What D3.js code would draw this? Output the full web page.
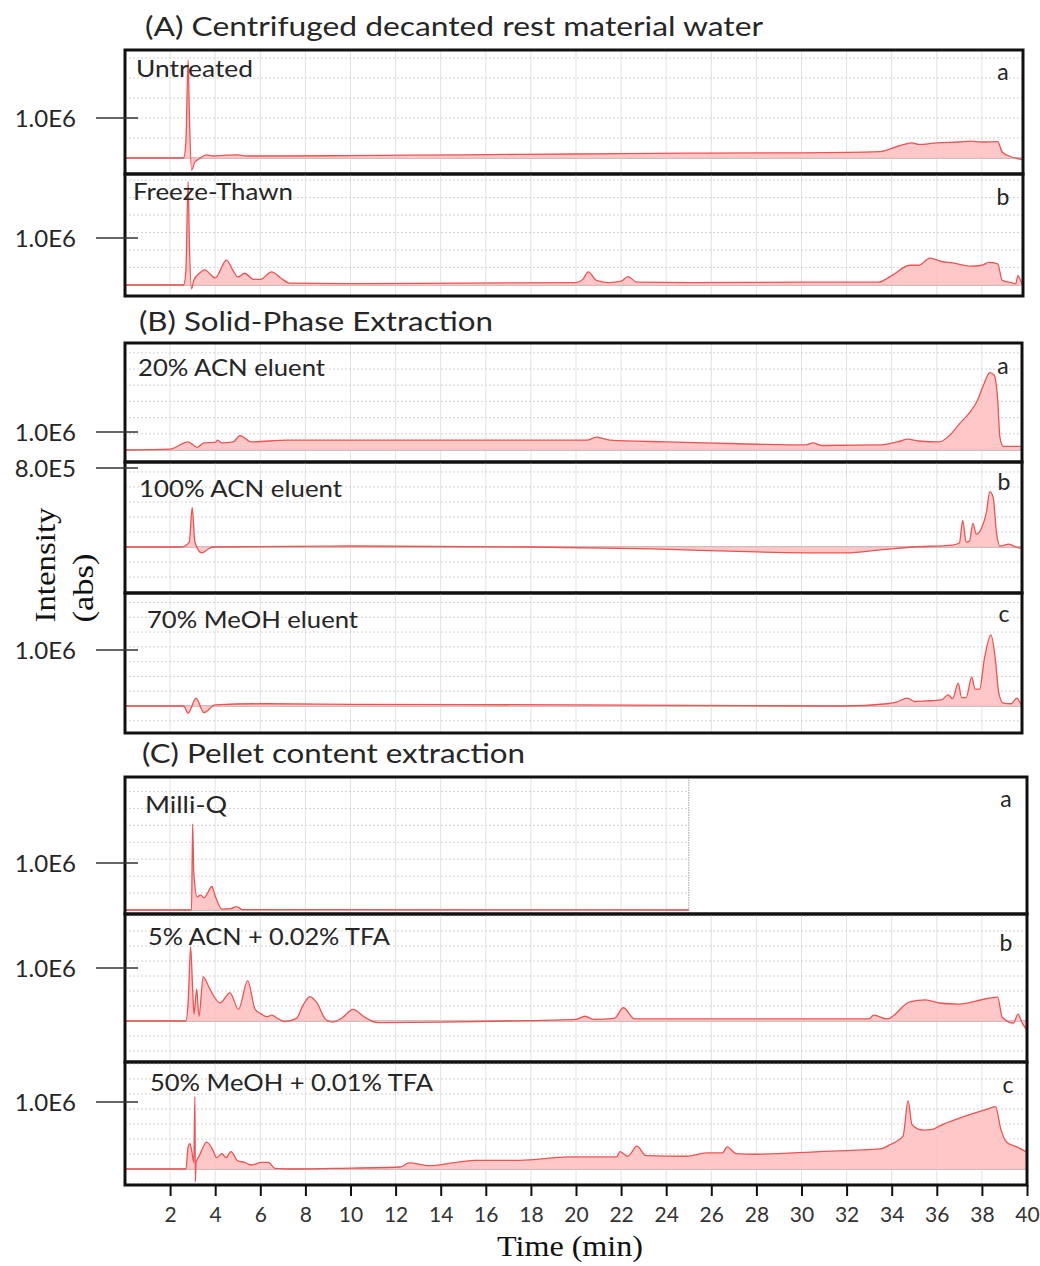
<!DOCTYPE html>
<html>
<head>
<meta charset="utf-8">
<script src="https://cdn.jsdelivr.net/npm/d3@7"></script>
<style>
  body { margin: 0; background: #fff; }
  svg { display: block; }
</style>
</head>
<body>
<svg id="chart" width="1040" height="1266"></svg>
<script>
// ---- data (intensity in units of 1E6, time in min) ----
const sectionTitles = ["(A) Centrifuged decanted rest material water", "(B) Solid-Phase Extraction", "(C) Pellet content extraction"];
const panelNames = ["Untreated", "Freeze-Thawn", "20% ACN eluent", "100% ACN eluent", "70% MeOH eluent",
  "Milli-Q", "5% ACN + 0.02% TFA", "50% MeOH + 0.01% TFA"];
const panelLetters = ["a", "b", "a", "b", "c", "a", "b", "c"];
const yTickValues = [1.0, 1.0, 1.0, 0.8, 1.0, 1.0, 1.0, 1.0];
const yTickLabels = ["1.0E6", "1.0E6", "1.0E6", "8.0E5", "1.0E6", "1.0E6", "1.0E6", "1.0E6"];
const xTicks = [2, 4, 6, 8, 10, 12, 14, 16, 18, 20, 22, 24, 26, 28, 30, 32, 34, 36, 38, 40];
const runEnd = [40, 40, 40, 40, 40, 25, 40, 40];

const untreatedTime = [0, 2.6, 2.7, 2.8, 2.85, 2.95, 3.1, 3.3, 3.6, 3.9, 4.5, 5.0, 5.4, 7, 10, 15, 20, 25, 30, 33.5, 34.3, 34.9, 35.2, 36, 37, 37.5, 38, 38.7, 38.9, 39.2, 40];
const untreatedInt  = [0, 0, 0.4, 2.45, 1.2, -0.3, -0.1, -0.02, 0.08, 0.05, 0.07, 0.08, 0.05, 0.05, 0.06, 0.08, 0.1, 0.12, 0.13, 0.16, 0.3, 0.38, 0.34, 0.38, 0.4, 0.42, 0.4, 0.41, 0.15, 0.05, -0.05];

const freezeTime = [0, 2.6, 2.7, 2.8, 2.85, 2.95, 3.05, 3.3, 3.55, 3.8, 4.0, 4.5, 4.8, 5.0, 5.3, 5.7, 6.0, 6.5, 6.9, 7.3, 10, 15, 20, 20.3, 20.55, 20.9, 21.5, 22.0, 22.3, 22.7, 25, 30, 33.4, 34.0, 34.8, 35.2, 35.7, 36.2, 36.7, 37.5, 38.0, 38.3, 38.7, 38.9, 39.3, 39.5, 39.6, 39.8, 40];
const freezeInt  = [0, 0, 0.3, 2.2, 1.0, -0.08, 0.1, 0.25, 0.32, 0.22, 0.15, 0.53, 0.3, 0.17, 0.25, 0.12, 0.12, 0.28, 0.15, 0.04, 0.03, 0.04, 0.05, 0.12, 0.28, 0.1, 0.05, 0.08, 0.18, 0.06, 0.05, 0.06, 0.06, 0.2, 0.42, 0.42, 0.57, 0.5, 0.47, 0.4, 0.42, 0.48, 0.45, 0.1, 0.05, 0.03, 0.2, 0.02, 0];

const acn20Time = [0, 2.0, 2.8, 3.2, 3.5, 4.0, 4.1, 4.3, 4.8, 5.1, 5.6, 7.2, 10, 15, 20.5, 20.9, 21.5, 24, 28, 30.2, 30.5, 30.9, 33.5, 34.4, 34.7, 35.2, 36.1, 36.6, 37.0, 37.5, 37.8, 38.1, 38.35, 38.55, 38.7, 38.8, 38.95, 40];
const acn20Int  = [0, 0.05, 0.45, 0.15, 0.4, 0.42, 0.55, 0.4, 0.45, 0.8, 0.45, 0.55, 0.55, 0.55, 0.55, 0.72, 0.55, 0.45, 0.32, 0.28, 0.4, 0.25, 0.28, 0.5, 0.6, 0.5, 0.45, 0.85, 1.45, 2.15, 2.75, 3.7, 4.3, 4.15, 2.8, 0.7, 0.2, 0.2];

const acn100Time = [0, 2.5, 2.85, 2.98, 3.1, 3.4, 3.7, 3.9, 10, 18, 23.4, 28, 32, 33.5, 35, 36.7, 37.0, 37.15, 37.3, 37.45, 37.6, 37.75, 38.0, 38.2, 38.35, 38.5, 38.65, 38.8, 39.2, 39.5, 40];
const acn100Int  = [0, 0, 0.05, 0.40, 0.05, -0.06, -0.02, 0, 0.01, 0.0, -0.02, -0.05, -0.06, -0.03, 0, 0.02, 0.04, 0.27, 0.05, 0.06, 0.24, 0.13, 0.2, 0.35, 0.56, 0.5, 0.14, 0.01, 0.03, 0.0, -0.02];

const meoh70Time = [0, 2.6, 2.8, 3.15, 3.5, 4.0, 6, 10, 20, 25, 31.8, 33.8, 34.2, 34.7, 35.0, 35.5, 36.2, 36.5, 36.7, 36.95, 37.1, 37.3, 37.55, 37.7, 37.9, 38.1, 38.4, 38.6, 38.75, 38.95, 39.3, 39.55, 39.75, 40];
const meoh70Int  = [0, 0, -0.13, 0.14, -0.12, 0.02, 0.04, 0.03, 0.02, 0.01, 0.0, 0.04, 0.07, 0.14, 0.08, 0.09, 0.11, 0.2, 0.13, 0.41, 0.15, 0.15, 0.52, 0.3, 0.3, 0.82, 1.27, 0.82, 0.23, 0.05, 0.04, 0.14, 0.03, 0.0];

const milliQTime = [0, 2.95, 3.0, 3.05, 3.2, 3.35, 3.5, 3.65, 3.85, 4.0, 4.3, 4.7, 4.95, 5.2, 25];
const milliQInt  = [0, 0, 1.83, 0.8, 0.28, 0.32, 0.26, 0.35, 0.5, 0.3, 0.02, 0.03, 0.07, 0.01, 0];

const acn5Time = [0, 2.7, 2.8, 2.91, 3.0, 3.06, 3.18, 3.28, 3.47, 3.69, 3.92, 4.21, 4.66, 5.03, 5.44, 5.77, 6.06, 6.3, 6.5, 6.8, 7.1, 7.6, 7.9, 8.2, 8.5, 8.9, 9.2, 9.6, 10.12, 10.6, 11.2, 14, 17, 20, 20.4, 20.8, 21.7, 22.1, 22.6, 26, 30, 33.0, 33.2, 33.8, 34.8, 35.5, 36.1, 37.0, 38.2, 38.7, 38.9, 39.4, 39.6, 39.8, 40];
const acn5Int  = [0, 0, 0.35, 1.4, 0.6, 0.13, 0.6, 0.09, 0.83, 0.67, 0.48, 0.34, 0.53, 0.22, 0.76, 0.22, 0.13, 0.08, 0.11, 0.04, -0.01, 0.05, 0.3, 0.46, 0.35, 0.03, -0.02, 0.05, 0.22, 0.08, -0.03, -0.02, 0.0, 0.03, 0.09, 0.03, 0.05, 0.25, 0.04, 0.04, 0.04, 0.04, 0.11, 0.04, 0.36, 0.4, 0.34, 0.32, 0.42, 0.45, 0.07, -0.04, 0.13, -0.05, -0.17];

const meoh50Time = [0, 2.7, 2.8, 2.88, 2.96, 3.05, 3.10, 3.12, 3.15, 3.3, 3.62, 3.9, 4.06, 4.3, 4.48, 4.7, 5.0, 5.3, 5.6, 6.06, 6.36, 6.65, 7.4, 9.2, 12.2, 12.6, 13.5, 14.5, 15.5, 17.5, 19.7, 21.8, 21.95, 22.3, 22.7, 23.1, 24.9, 25.8, 26.5, 26.7, 27.1, 27.9, 30.8, 33.5, 33.9, 34.5, 34.73, 34.9, 35.4, 35.8, 36.1, 37.1, 38.2, 38.6, 38.85, 39.1, 39.55, 40];
const meoh50Int  = [0, 0, 0.33, 0.38, 0.27, 0.1, 1.08, -0.19, 0.1, 0.2, 0.4, 0.28, 0.17, 0.23, 0.17, 0.26, 0.12, 0.1, 0.06, 0.1, 0.1, 0.01, 0, 0.01, 0.03, 0.09, 0.05, 0.09, 0.13, 0.13, 0.18, 0.18, 0.26, 0.19, 0.34, 0.2, 0.19, 0.24, 0.24, 0.33, 0.23, 0.22, 0.26, 0.3, 0.36, 0.49, 1.02, 0.66, 0.58, 0.59, 0.64, 0.77, 0.89, 0.93, 0.58, 0.4, 0.33, 0.25];

const traces = [
  [untreatedTime, untreatedInt], [freezeTime, freezeInt],
  [acn20Time, acn20Int], [acn100Time, acn100Int], [meoh70Time, meoh70Int],
  [milliQTime, milliQInt], [acn5Time, acn5Int], [meoh50Time, meoh50Int]
];

// ---- layout ----
const titlePos = [[145, 36, 618], [139, 331, 354], [142, 763, 383]];
const panels = [
  { top: 50,  bottom: 174,  right: 1023, zeroY: 158,  tickY: 118,  grid: 0.5,   nx: 136, ny: 77,   nw: 117, lx: 1003, ly: 80 },
  { top: 174, bottom: 296,  right: 1023, zeroY: 285,  tickY: 238,  grid: 0.372, nx: 133, ny: 200,  nw: 160, lx: 1003, ly: 205 },
  { top: 343, bottom: 462,  right: 1022, zeroY: 450,  tickY: 432,  grid: 0.9,   nx: 138, ny: 376,  nw: 187, lx: 1003, ly: 374 },
  { top: 462, bottom: 593,  right: 1022, zeroY: 547,  tickY: 468,  grid: 0.152, nx: 139, ny: 497,  nw: 203, lx: 1004, ly: 490 },
  { top: 593, bottom: 733,  right: 1022, zeroY: 706,  tickY: 650,  grid: 0.264, nx: 147, ny: 628,  nw: 211, lx: 1004, ly: 622 },
  { top: 777, bottom: 914,  right: 1027, zeroY: 910,  tickY: 863,  grid: 0.36,  nx: 145, ny: 813,  nw: 82,  lx: 1006, ly: 807 },
  { top: 914, bottom: 1062, right: 1027, zeroY: 1021, tickY: 968,  grid: 0.283, nx: 148, ny: 945,  nw: 242, lx: 1006, ly: 951 },
  { top: 1062, bottom: 1185, right: 1027, zeroY: 1169, tickY: 1102, grid: 0.224, nx: 150, ny: 1091, nw: 283, lx: 1008, ly: 1093 }
];

const sans = "Lato, 'Open Sans', sans-serif";
const serif = "'Liberation Serif', 'DejaVu Serif', serif";
const ink = "#262626";

const svg = d3.select("#chart");
const defs = svg.append("defs");
const x = d3.scaleLinear().domain([0, 40]).range([125, 1027]);

svg.selectAll(".title").data(sectionTitles).join("text")
  .attr("x", (d, i) => titlePos[i][0]).attr("y", (d, i) => titlePos[i][1])
  .attr("textLength", (d, i) => titlePos[i][2]).attr("lengthAdjust", "spacingAndGlyphs")
  .style("font-family", sans).style("font-size", "26.5px").style("fill", ink)
  .text(d => d);

panels.forEach((p, i) => {
  const y = d3.scaleLinear().domain([0, yTickValues[i]]).range([p.zeroY, p.tickY]);
  const end = runEnd[i];
  const g = svg.append("g");

  defs.append("clipPath").attr("id", "clip" + i)
    .append("rect").attr("x", 125).attr("y", p.top).attr("width", p.right - 125).attr("height", p.bottom - p.top);
  const inner = g.append("g").attr("clip-path", `url(#clip${i})`);

  // grid
  const gridRight = Math.min(x(end), p.right);
  inner.selectAll(".vg").data(xTicks.filter(t => t < end)).join("line")
    .attr("x1", d => x(d)).attr("x2", d => x(d)).attr("y1", p.top).attr("y2", p.bottom)
    .attr("stroke", "#e2e2e2").attr("stroke-width", 1);
  const lo = y.invert(p.bottom), hi = y.invert(p.top);
  const hv = d3.range(Math.ceil(lo / p.grid), Math.floor(hi / p.grid) + 1).map(k => k * p.grid).filter(v => Math.abs(v) > 1e-9);
  inner.selectAll(".hg").data(hv).join("line")
    .attr("x1", 125).attr("x2", gridRight).attr("y1", d => y(d)).attr("y2", d => y(d))
    .attr("stroke", "#d4d4d4").attr("stroke-width", 1).attr("stroke-dasharray", "2,2");
  if (end < 40) {
    inner.append("line").attr("x1", x(end)).attr("x2", x(end)).attr("y1", p.top).attr("y2", p.bottom)
      .attr("stroke", "#b0b0b0").attr("stroke-width", 1.2).attr("stroke-dasharray", "1.5,1");
  }

  // baseline
  inner.append("line").attr("x1", 125).attr("x2", x(end)).attr("y1", y(0)).attr("y2", y(0))
    .attr("stroke", "#cdbfbf").attr("stroke-width", 2);

  // trace
  const pts = traces[i][0].map((t, j) => [t, traces[i][1][j]]);
  const area = d3.area().x(d => x(d[0])).y0(y(0)).y1(d => y(d[1])).curve(d3.curveMonotoneX);
  const line = d3.line().x(d => x(d[0])).y(d => y(d[1])).curve(d3.curveMonotoneX);
  inner.append("path").attr("d", area(pts)).attr("fill", "#ffc2c2").attr("fill-opacity", 0.9);
  inner.append("path").attr("d", line(pts)).attr("fill", "none").attr("stroke", "#f05252").attr("stroke-width", 1.3);

  // frame
  g.append("rect").attr("x", 125).attr("y", p.top).attr("width", p.right - 125).attr("height", p.bottom - p.top)
    .attr("fill", "none").attr("stroke", "#111").attr("stroke-width", 3);

  // y tick
  g.append("line").attr("x1", 96).attr("x2", 138).attr("y1", y(yTickValues[i])).attr("y2", y(yTickValues[i]))
    .attr("stroke", "#333").attr("stroke-width", 1.6);
  g.append("text").attr("x", 76).attr("y", y(yTickValues[i])).attr("dy", "0.36em")
    .attr("text-anchor", "end")
    .style("font-family", sans).style("font-size", "24px").style("fill", ink)
    .text(yTickLabels[i]);

  // labels
  g.append("text").attr("x", p.nx).attr("y", p.ny)
    .attr("textLength", p.nw).attr("lengthAdjust", "spacingAndGlyphs")
    .style("font-family", sans).style("font-size", "23px").style("fill", ink)
    .text(panelNames[i]);
  g.append("text").attr("x", p.lx).attr("y", p.ly).attr("text-anchor", "middle")
    .style("font-family", sans).style("font-size", "23px").style("fill", ink)
    .text(panelLetters[i]);
});

// x axis
const xAxis = d3.axisBottom(x).tickValues(xTicks).tickSize(11).tickPadding(11).tickFormat(d3.format("d"));
const ax = svg.append("g").attr("transform", "translate(0,1185)").call(xAxis);
ax.select(".domain").remove();
ax.selectAll(".tick line").attr("stroke", "#111").attr("stroke-width", 2);
ax.selectAll(".tick text").style("font-family", sans).style("font-size", "21px").style("fill", "#333");

svg.append("text").attr("x", 570).attr("y", 1256).attr("text-anchor", "middle")
  .attr("textLength", 146).attr("lengthAdjust", "spacingAndGlyphs")
  .style("font-family", serif).style("font-size", "30px").style("fill", "#111")
  .text("Time (min)");

svg.append("text").attr("transform", "translate(55,565) rotate(-90)").attr("text-anchor", "middle")
  .attr("textLength", 115).attr("lengthAdjust", "spacingAndGlyphs")
  .style("font-family", serif).style("font-size", "30px").style("fill", "#111")
  .text("Intensity");
svg.append("text").attr("transform", "translate(93,588) rotate(-90)").attr("text-anchor", "middle")
  .attr("textLength", 69).attr("lengthAdjust", "spacingAndGlyphs")
  .style("font-family", serif).style("font-size", "30px").style("fill", "#111")
  .text("(abs)");
</script>
</body>
</html>
